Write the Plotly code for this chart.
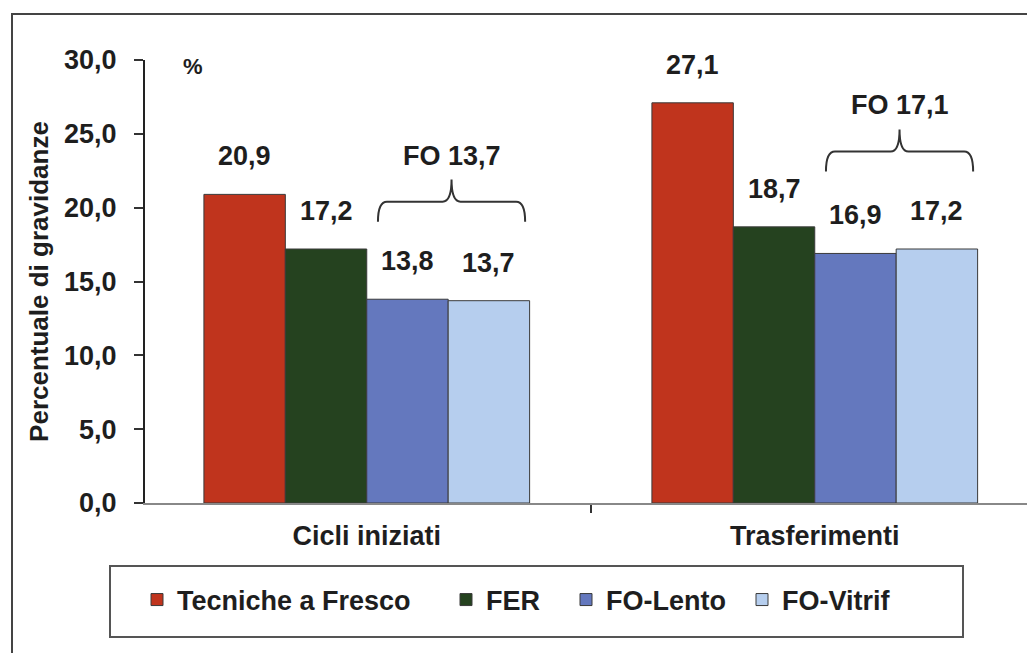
import plotly.graph_objects as go

categories = ["Cicli iniziati", "Trasferimenti"]
series_names = ["Tecniche a Fresco", "FER", "FO-Lento", "FO-Vitrif"]
fresco = [20.9, 27.1]
fer = [17.2, 18.7]
fo_lento = [13.8, 16.9]
fo_vitrif = [13.7, 17.2]
fo_total = [13.7, 17.1]
y_ticks = [0, 5, 10, 15, 20, 25, 30]

colors = ["#C0341D", "#25421F", "#6478BE", "#B6CEEE"]
FONT = "Liberation Sans, Arial, sans-serif"
BARGAP = 0.273
# the page body adds 8px of margin, so the figure is shifted by 8px
SHIFT = 8
PW, PH, L0, B0 = 896, 443, 145, 503   # plot area size / origin in page px


def bold(size):
    return dict(family=FONT, size=size, color="#1e1e1e", weight="bold")


def px_x(x):
    return (x - L0) / PW


def px_y(y):
    return (B0 - y) / PH


series = [fresco, fer, fo_lento, fo_vitrif]
xs = list(range(len(categories)))
bw = (1 - BARGAP) / len(series)
legend_ids = ["legend", "legend2", "legend3", "legend4"]
legend_px = [137, 446, 566, 742]

fig = go.Figure()
for name, vals, col, lg in zip(series_names, series, colors, legend_ids):
    fig.add_trace(go.Bar(
        x=xs, y=vals, name=name, legend=lg,
        marker=dict(color=col, line=dict(color="#3a3a3a", width=1)),
    ))

# value labels above bars
for i, vals in enumerate(series):
    off = -(1 - BARGAP) / 2 + bw * (i + 0.5)
    for c, v in zip(xs, vals):
        fig.add_annotation(x=c + off, y=v, text=f"{v:.1f}".replace(".", ","),
                           showarrow=False, yshift=38, font=bold(27))

# braces over the FO bars
for c, tot, a, b in zip(xs, fo_total, fo_lento, fo_vitrif):
    xl = c + 0.025
    xr = c + bw * 2 - 0.01
    xm = (xl + xr) / 2
    y = max(a, b) + 6.6
    d, t, r = 1.35, 1.5, 0.02
    path = (f"M {xl},{y - d} Q {xl},{y} {xl + r},{y} L {xm - r},{y} "
            f"Q {xm},{y} {xm},{y + t} Q {xm},{y} {xm + r},{y} "
            f"L {xr - r},{y} Q {xr},{y} {xr},{y - d}")
    fig.add_shape(type="path", path=path, xref="x", yref="y",
                  line=dict(color="#333", width=2))
    fig.add_annotation(x=xm, y=y + t, text="FO " + f"{tot:.1f}".replace(".", ","),
                       showarrow=False, yshift=24, font=bold(27))

fig.add_annotation(xref="paper", yref="paper", x=px_x(181), y=px_y(52),
                   text="%", showarrow=False, font=bold(22))

# outer frame and legend box
fig.add_shape(type="rect", xref="paper", yref="paper",
              x0=px_x(12), x1=1.02, y0=-0.36, y1=px_y(14),
              line=dict(color="#444", width=2), layer="below")
fig.add_shape(type="rect", xref="paper", yref="paper",
              x0=px_x(110), x1=px_x(963), y0=px_y(637), y1=px_y(566),
              line=dict(color="#555", width=2))

legends = {}
for lg, p in zip(legend_ids, legend_px):
    legends[lg] = dict(orientation="h", x=px_x(p), xanchor="left",
                       y=px_y(600), yanchor="middle",
                       bgcolor="rgba(0,0,0,0)", borderwidth=0, font=bold(27))

fig.update_layout(
    width=1035, height=653,
    margin=dict(l=L0 - SHIFT, r=1035 - (L0 - SHIFT) - PW,
                t=60 - SHIFT, b=653 - (60 - SHIFT) - PH, autoexpand=False),
    paper_bgcolor="white", plot_bgcolor="white",
    barmode="group", bargap=BARGAP, bargroupgap=0,
    separators=",.",
    font=dict(family=FONT, size=25, color="#1e1e1e"),
    showlegend=True,
    **legends,
    xaxis=dict(range=[-0.495, 1.505], tickvals=xs, ticktext=categories,
               ticks="", showgrid=False, zeroline=False,
               showline=True, linecolor="#888", linewidth=2,
               ticklabelstandoff=8,
               minor=dict(tickvals=[0.5], ticks="outside", ticklen=8,
                          tickcolor="#333", tickwidth=2),
               tickfont=bold(27)),
    yaxis=dict(range=[0, 30], tickvals=y_ticks, tickformat=".1f",
               ticks="outside", ticklen=9, tickcolor="#333", tickwidth=2,
               showline=True, linecolor="#222", linewidth=2,
               showgrid=False, zeroline=False, ticklabelstandoff=12,
               title=dict(text="Percentuale di gravidanze", standoff=8,
                          font=bold(26)),
               tickfont=bold(27)),
)

fig.write_html("out.html")
